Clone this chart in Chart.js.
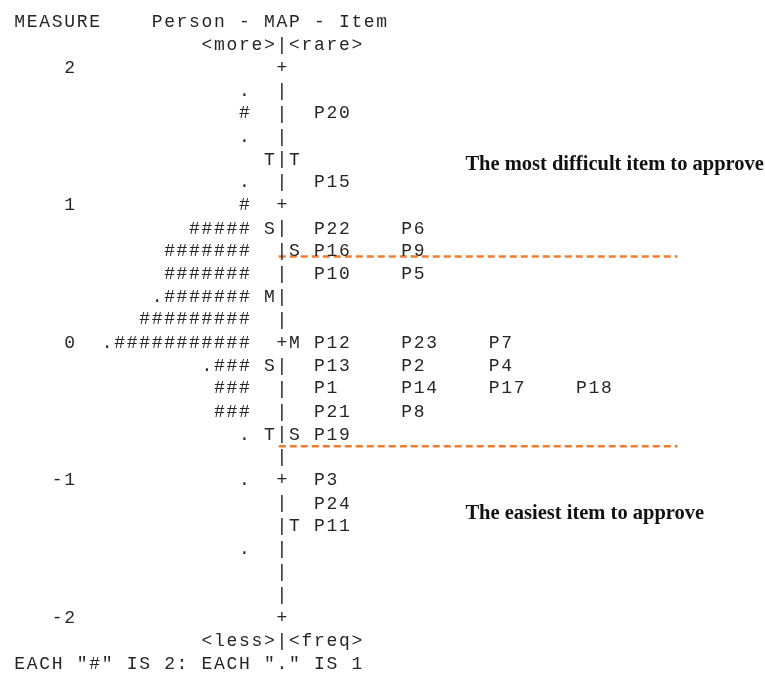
<!DOCTYPE html>
<html>
<head>
<meta charset="utf-8">
<script src="https://cdn.jsdelivr.net/npm/chart.js@4"></script>
<style>
  html, body { margin: 0; padding: 0; background: #fff; }
  #wrap { width: 765px; height: 674px; position: relative; }
</style>
</head>
<body>
<div id="wrap"><canvas id="wrightMap"></canvas></div>
<script>
// measure axis (logits)
const measureTicks = [2, 1, 0, -1, -2];

// persons: level and head count (each "#" is 2, each "." is 1)
const personLevels = [1.83, 1.67, 1.5, 1.17, 1.0, 0.83, 0.67, 0.5, 0.33, 0.17, 0, -0.17, -0.33, -0.5, -0.67, -1.0, -1.5];
const personCounts = [1, 2, 1, 1, 2, 10, 14, 14, 15, 18, 23, 7, 6, 6, 1, 1, 1];

// items
const itemNames = ["P20", "P15", "P22", "P6", "P16", "P9", "P10", "P5", "P12", "P23", "P7", "P13", "P2", "P4",
  "P1", "P14", "P17", "P18", "P21", "P8", "P19", "P3", "P24", "P11"];
const itemLevels = [1.67, 1.17, 0.83, 0.83, 0.67, 0.67, 0.5, 0.5, 0, 0, 0, -0.17, -0.17, -0.17,
  -0.33, -0.33, -0.33, -0.33, -0.5, -0.5, -0.67, -1.0, -1.17, -1.33];

// M / S / T markers on each side of the axis
const personMarkLabels = ["T", "S", "M", "S", "T"];
const personMarkLevels = [1.33, 0.83, 0.33, -0.17, -0.67];
const itemMarkLabels = ["T", "S", "M", "S", "T"];
const itemMarkLevels = [1.33, 0.67, 0, -0.67, -1.33];

// cut lines and notes
const cutLevels = [0.63, -0.75];
const cutNotes = ["The most difficult item to approve", "The easiest item to approve"];
const noteLevels = [1.3, -1.24];

const monoFont = "18px 'Liberation Mono', 'Courier New', monospace";
const noteFont = "bold 20.5px 'Liberation Serif', 'Times New Roman', serif";
const ink = "#262626";
const orange = "#ED7D31";

function hashes(n) {
  return (n % 2 ? "." : "") + "#".repeat(Math.floor(n / 2));
}

// items sharing a level go side by side, 7 columns apart
const seen = {};
const itemCols = itemLevels.map(l => {
  seen[l] = (seen[l] || 0) + 1;
  return 24 + 7 * (seen[l] - 1);
});

const personData = personLevels.map((l, i) => ({ x: 19, y: l, label: hashes(personCounts[i]) }));
const itemData = itemLevels.map((l, i) => ({ x: itemCols[i], y: l, label: itemNames[i] }));

const cutSets = cutLevels.map(l => ({
  type: 'line',
  data: [{ x: 21.25, y: l }, { x: 53.2, y: l }],
  borderColor: orange,
  borderWidth: 2.5,
  borderDash: [7, 4],
  pointRadius: 0,
  fill: false
}));

const textPlugin = {
  id: 'wrightText',
  afterDatasetsDraw(chart) {
    const { ctx, scales: { x, y } } = chart;
    const pitch = x.getPixelForValue(1) - x.getPixelForValue(0);
    ctx.save();
    ctx.fillStyle = ink;
    ctx.font = monoFont;
    ctx.textBaseline = 'middle';
    ctx.textAlign = 'center';
    // one character per grid column, like the printed map
    const grid = (s, px, py) => {
      for (let k = 0; k < s.length; k++) {
        if (s[k] !== ' ') ctx.fillText(s[k], px + (k + 0.5) * pitch, py);
      }
    };
    const put = (s, col, level, right) => {
      const start = right ? col - s.length : col;
      grid(s, x.getPixelForValue(start), y.getPixelForValue(level));
    };

    // header / footer
    put("MEASURE", 0, 2 + 2 / 6);
    put("Person - MAP - Item", 11, 2 + 2 / 6);
    put("<more>|<rare>", 15, 2 + 1 / 6);
    put("<less>|<freq>", 15, -2 - 1 / 6);
    put('EACH "#" IS 2: EACH "." IS 1', 0, -2 - 2 / 6);

    // axis column
    for (let i = 0; i <= 24; i++) {
      const lv = 2 - i / 6;
      const isTick = measureTicks.some(t => Math.abs(t - lv) < 1e-6);
      put(isTick ? "+" : "|", 21, lv);
    }
    measureTicks.forEach(t => put(String(t), 5, t, true));

    // markers
    personMarkLabels.forEach((s, i) => put(s, 20, personMarkLevels[i]));
    itemMarkLabels.forEach((s, i) => put(s, 22, itemMarkLevels[i]));

    // persons (right-aligned) and items (left-aligned), placed at their points
    chart.getDatasetMeta(0).data.forEach((pt, i) => {
      const s = personData[i].label;
      grid(s, pt.x - s.length * pitch, pt.y);
    });
    chart.getDatasetMeta(1).data.forEach((pt, i) => {
      grid(itemData[i].label, pt.x, pt.y);
    });

    // notes
    ctx.font = noteFont;
    ctx.fillStyle = "#111";
    ctx.textAlign = 'left';
    cutNotes.forEach((s, i) => ctx.fillText(s, x.getPixelForValue(36.2), y.getPixelForValue(noteLevels[i])));
    ctx.restore();
  }
};

new Chart(document.getElementById("wrightMap"), {
  type: 'scatter',
  data: {
    datasets: [
      { label: "Persons", data: personData, pointRadius: 0 },
      { label: "Items", data: itemData, pointRadius: 0 },
      ...cutSets
    ]
  },
  options: {
    responsive: true,
    maintainAspectRatio: false,
    animation: false,
    layout: { autoPadding: false, padding: 0 },
    plugins: { legend: { display: false }, tooltip: { enabled: false } },
    scales: {
      x: { type: 'linear', min: -1.08, max: 60.2, display: false },
      y: { type: 'linear', min: -2.407, max: 2.495, display: false }
    }
  },
  plugins: [textPlugin]
});
</script>
</body>
</html>
